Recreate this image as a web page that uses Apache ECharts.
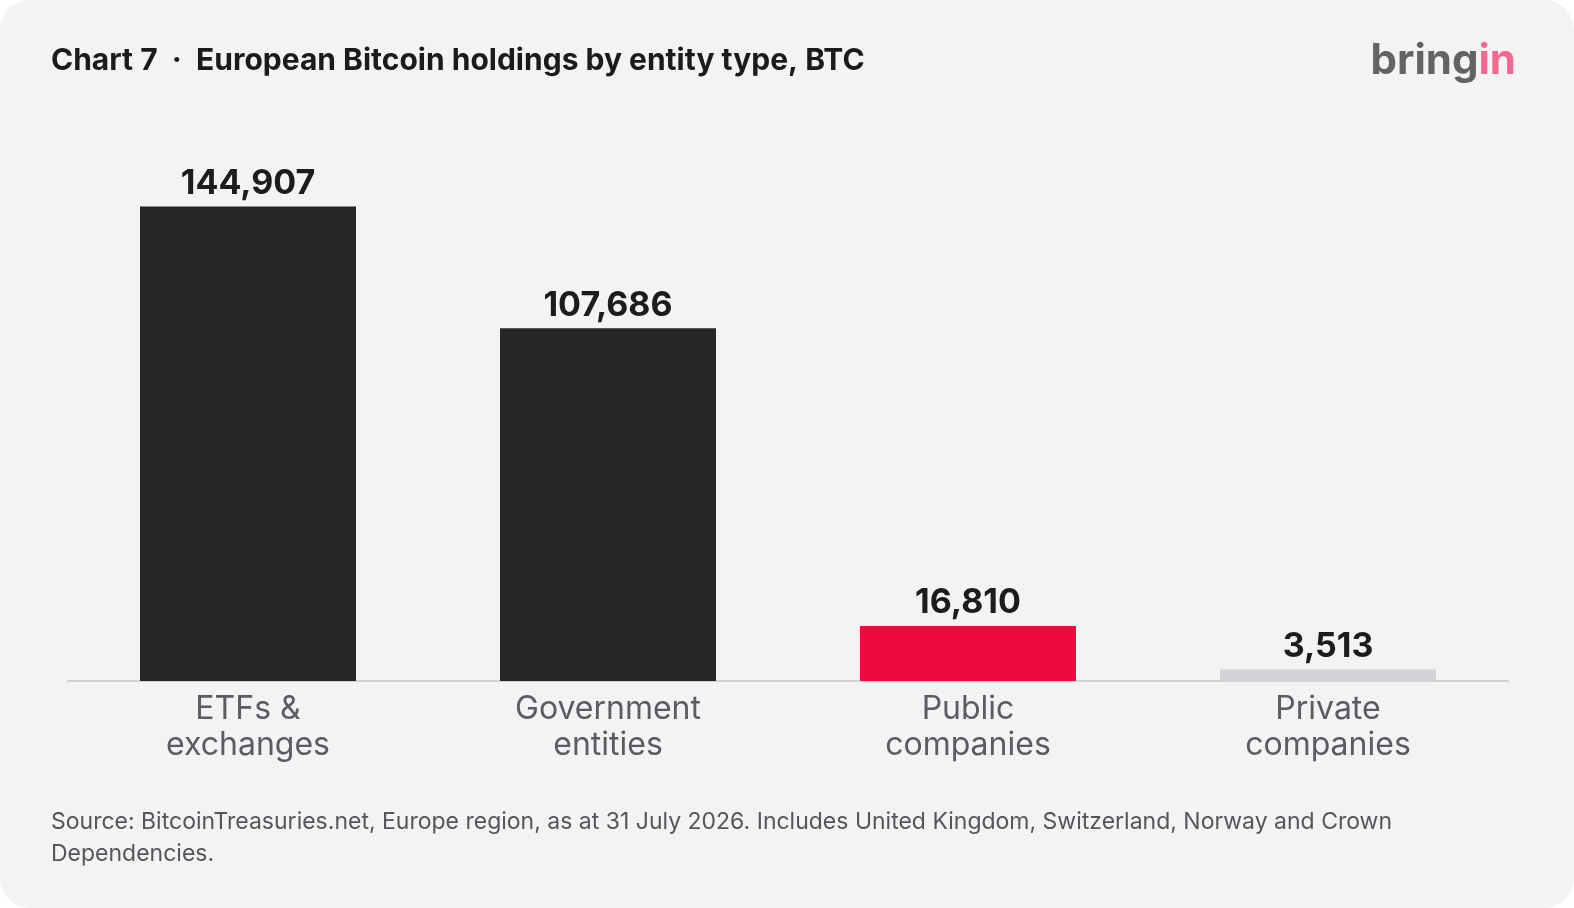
<!DOCTYPE html>
<html>
<head>
<meta charset="utf-8">
<script src="https://cdn.jsdelivr.net/npm/echarts@6/dist/echarts.min.js"></script>
<style>
html,body{margin:0;padding:0;background:#ffffff;}
#card{position:absolute;left:0;top:0;width:1574px;height:908px;background:#f3f3f3;border-radius:30px;overflow:hidden;}
#chart{width:1574px;height:908px;}
</style>
</head>
<body>
<div id="card"><div id="chart"></div></div>
<script>
const categories = ['ETFs &\nexchanges', 'Government\nentities', 'Public\ncompanies', 'Private\ncompanies'];
const holdings = [144907, 107686, 16810, 3513];
const titleText = 'Chart 7  \u00b7  European Bitcoin holdings by entity type, BTC';
const sourceText = 'Source: BitcoinTreasuries.net, Europe region, as at 31 July 2026. Includes United Kingdom, Switzerland, Norway and Crown\nDependencies.';
const barColors = ['#262628', '#262628', '#ee0a3f', '#d3d3d8'];

const chart = echarts.init(document.getElementById('chart'), null, {renderer: 'canvas'});
chart.setOption({
  backgroundColor: 'transparent',
  animation: false,
  textStyle: {fontFamily: 'Inter'},
  title: {
    text: titleText,
    left: 51, top: 46, padding: 0,
    textStyle: {fontFamily: 'Inter', fontWeight: 'bold', fontSize: 30, color: '#1b1b1d'}
  },
  graphic: [
    {
      type: 'text', right: 58, top: 40,
      style: {
        text: '{a|bring}{b|in}',
        rich: {
          a: {fontFamily: 'Inter', fontWeight: 'bold', fontSize: 42, fill: '#636365'},
          b: {fontFamily: 'Inter', fontWeight: 'bold', fontSize: 42, fill: '#f2688f'}
        }
      }
    },
    {
      type: 'text', left: 51, top: 806,
      style: {
        text: sourceText,
        fontFamily: 'Inter', fontSize: 23, lineHeight: 32, fill: '#55555c'
      }
    }
  ],
  grid: {left: 68, right: 66, top: 157, bottom: 227},
  xAxis: {
    type: 'category',
    data: categories,
    axisTick: {show: false},
    axisLine: {show: true, lineStyle: {color: '#d2d2d6', width: 2}},
    axisLabel: {fontSize: 32, lineHeight: 36, color: '#5b5b63', margin: 10, interval: 0}
  },
  yAxis: {
    type: 'value', min: 0, max: 160000,
    show: false, splitLine: {show: false}
  },
  series: [{
    type: 'bar',
    data: holdings.map((v, i) => ({value: v, itemStyle: {color: barColors[i]}})),
    barWidth: '60%',
    label: {
      show: true, position: 'top', distance: 6,
      fontFamily: 'Inter', fontWeight: 'bold', fontSize: 34, color: '#1c1c1e',
      formatter: p => p.value.toLocaleString('en-US')
    }
  }]
});
</script>
</body>
</html>
